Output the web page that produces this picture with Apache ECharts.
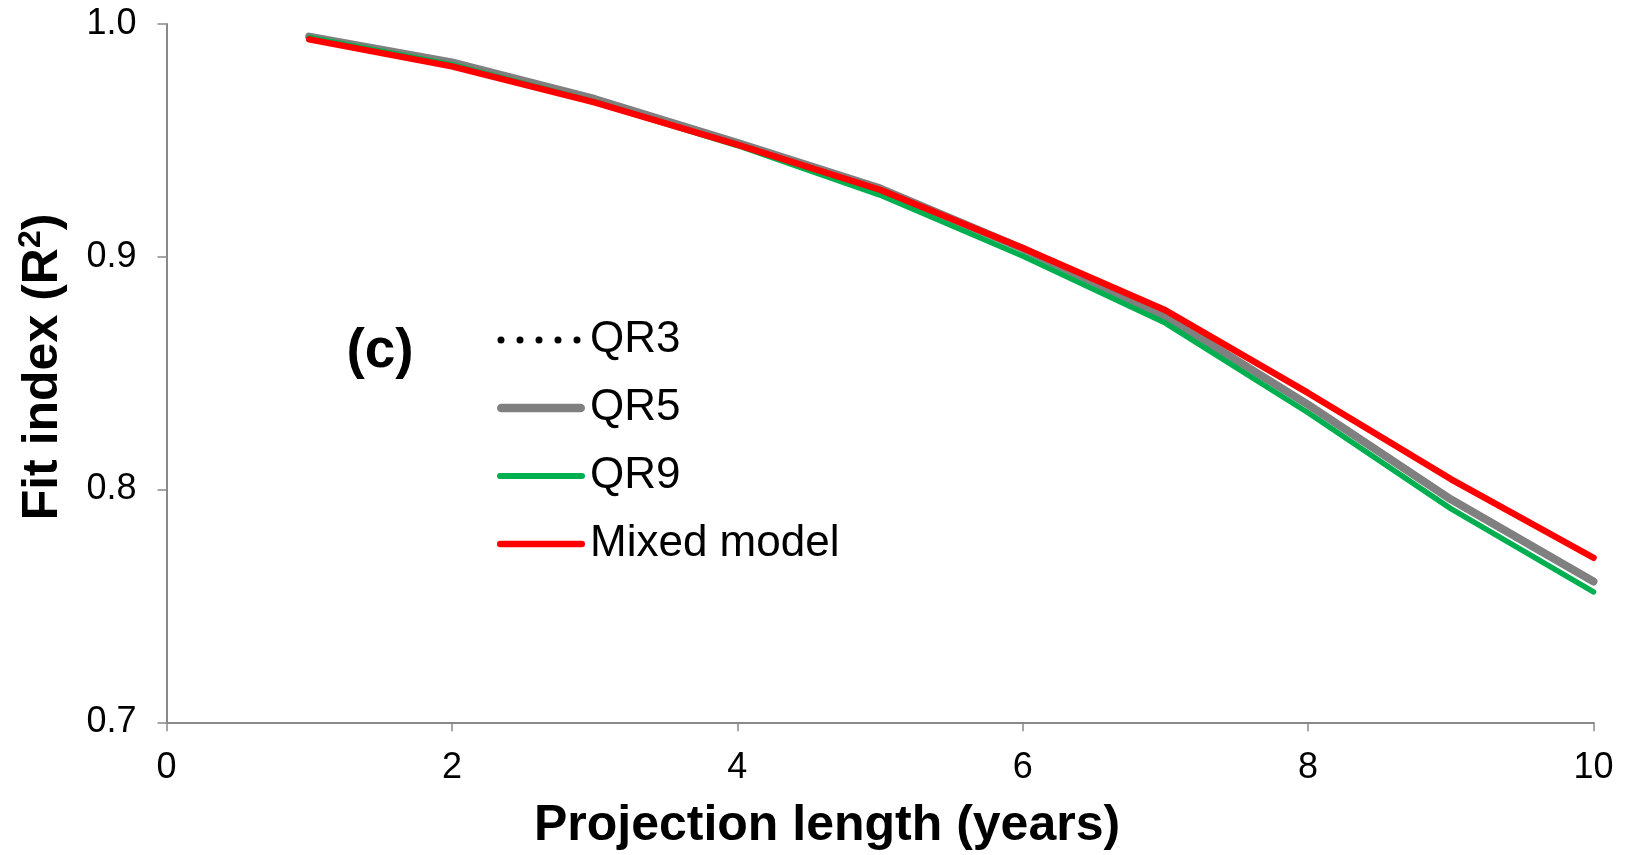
<!DOCTYPE html>
<html>
<head>
<meta charset="utf-8">
<script src="https://cdn.jsdelivr.net/npm/echarts@6/dist/echarts.min.js"></script>
<style>
  html, body { margin: 0; padding: 0; background: #fff; }
  #chart { width: 1632px; height: 855px; }
</style>
</head>
<body>
<div id="chart"></div>
<script>
// projection length (years)
const years = [1, 2, 3, 4, 5, 6, 7, 8, 9, 10];
// fit index (R2) per model
const qr3 = [0.9946, 0.9834, 0.9677, 0.9489, 0.9292, 0.9033, 0.8743, 0.8362, 0.7955, 0.7602];
const qr5 = [0.9946, 0.9835, 0.9678, 0.9490, 0.9294, 0.9035, 0.8745, 0.8365, 0.7958, 0.7605];
const qr9 = [0.9942, 0.9825, 0.9665, 0.9478, 0.9265, 0.9003, 0.8715, 0.8330, 0.7918, 0.7560];
const mixed = [0.9934, 0.9818, 0.9663, 0.9482, 0.9288, 0.9038, 0.8770, 0.8415, 0.8045, 0.7707];

const seriesNames = ['QR3', 'QR5', 'QR9', 'Mixed model'];

const font = '"Liberation Sans", Arial, sans-serif';
const axisColor = '#898989';

const pairs = vals => years.map((y, i) => [y, vals[i]]);

// legend icons drawn in an 88 x 10 box (the two bare M points pin the box)
const box = 'M0,0 M88,10 ';
const dot = x => `M${x - 3.5},5 A3.5,3.5 0 1 0 ${x + 3.5},5 A3.5,3.5 0 1 0 ${x - 3.5},5 Z `;
const dottedIcon = 'path://' + box + [4, 23, 42, 61, 80].map(dot).join('');
const bar = h => `path://${box}M${h},${5 - h} L${88 - h},${5 - h} A${h},${h} 0 0 1 ${88 - h},${5 + h} L${h},${5 + h} A${h},${h} 0 0 1 ${h},${5 - h} Z`;

const chart = echarts.init(document.getElementById('chart'));

chart.setOption({
  backgroundColor: '#fff',
  animation: false,
  grid: { left: 166.5, right: 38.5, top: 24, bottom: 132.7 },
  legend: {
    orient: 'vertical',
    left: 497,
    top: 318,
    padding: 0,
    itemWidth: 88,
    itemHeight: 10,
    itemGap: 24,
    itemStyle: { borderWidth: 0 },
    lineStyle: { width: 0 },
    textStyle: { fontFamily: font, fontSize: 44, color: '#000' },
    data: [
      { name: seriesNames[0], icon: dottedIcon, itemStyle: { color: '#000' } },
      { name: seriesNames[1], icon: bar(4.3), itemStyle: { color: '#808080' } },
      { name: seriesNames[2], icon: bar(3), itemStyle: { color: '#00B050' } },
      { name: seriesNames[3], icon: bar(3.3), itemStyle: { color: '#FF0000' } }
    ]
  },
  xAxis: {
    type: 'value',
    min: 0,
    max: 10,
    interval: 2,
    axisLine: { lineStyle: { color: axisColor, width: 2 } },
    axisTick: { show: true, length: 9, lineStyle: { color: axisColor, width: 1.5 } },
    axisLabel: { fontFamily: font, fontSize: 36, color: '#000', margin: 28 },
    splitLine: { show: false }
  },
  yAxis: {
    type: 'value',
    min: 0.7,
    max: 1.0,
    interval: 0.1,
    axisLine: { show: true, lineStyle: { color: axisColor, width: 2 } },
    axisTick: { show: true, length: 9, lineStyle: { color: axisColor, width: 1.5 } },
    axisLabel: {
      fontFamily: font, fontSize: 36, color: '#000', margin: 30,
      formatter: v => v.toFixed(1)
    },
    splitLine: { show: false }
  },
  graphic: [
    {
      type: 'text',
      position: [827, 826],
      style: {
        text: 'Projection length (years)',
        font: 'bold 50px ' + font,
        fill: '#000',
        textAlign: 'center',
        textVerticalAlign: 'middle'
      }
    },
    {
      type: 'text',
      rotation: Math.PI / 2,
      position: [43, 367],
      style: {
        text: '{a|Fit index (R}{s|2}{a|)}',
        fill: '#000',
        textAlign: 'center',
        textVerticalAlign: 'middle',
        rich: {
          a: { font: 'bold 50px ' + font, fill: '#000', lineHeight: 56 },
          s: { font: 'bold 32px ' + font, fill: '#000', verticalAlign: 'top', lineHeight: 56 }
        }
      }
    },
    {
      type: 'text',
      position: [380, 352],
      style: {
        text: '(c)',
        font: 'bold 55px ' + font,
        fill: '#000',
        textAlign: 'center',
        textVerticalAlign: 'middle'
      }
    }
  ],
  series: [
    {
      name: seriesNames[0], type: 'line', symbol: 'none', data: pairs(qr3),
      lineStyle: { color: '#000', width: 6, type: [0.1, 19], cap: 'round' },
      itemStyle: { color: '#000' }
    },
    {
      name: seriesNames[1], type: 'line', symbol: 'none', data: pairs(qr5),
      lineStyle: { color: '#808080', width: 8, cap: 'round' },
      itemStyle: { color: '#808080' }
    },
    {
      name: seriesNames[2], type: 'line', symbol: 'none', data: pairs(qr9),
      lineStyle: { color: '#00B050', width: 5.5, cap: 'round' },
      itemStyle: { color: '#00B050' }
    },
    {
      name: seriesNames[3], type: 'line', symbol: 'none', data: pairs(mixed),
      lineStyle: { color: '#FF0000', width: 6.5, cap: 'round' },
      itemStyle: { color: '#FF0000' }
    }
  ]
});
</script>
</body>
</html>
